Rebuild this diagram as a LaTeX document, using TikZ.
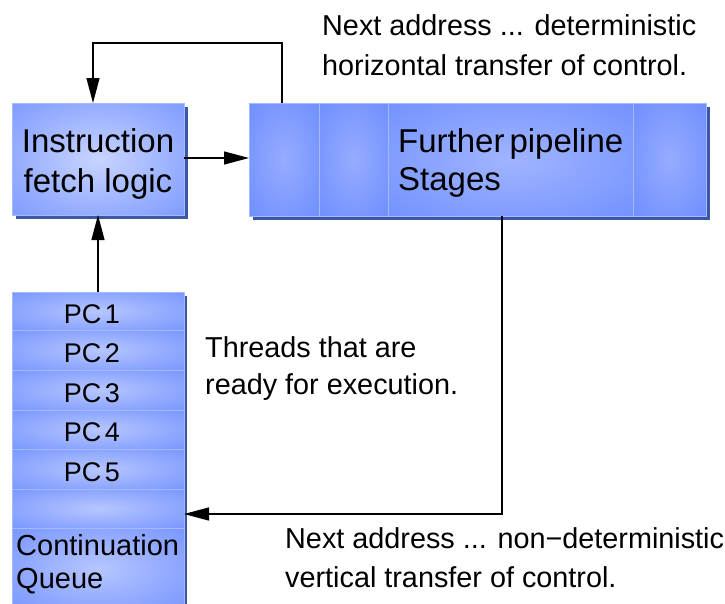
\documentclass[tikz,border=0pt]{standalone}
\usepackage{fontspec}
\setmainfont{Liberation Sans}
\usetikzlibrary{arrows.meta}
\definecolor{boxouter}{RGB}{102,136,255}
\definecolor{fetchin}{RGB}{200,212,255}
\definecolor{pipein}{RGB}{150,172,255}
\definecolor{bigin}{RGB}{160,180,255}
\definecolor{queuein}{RGB}{182,198,255}
\definecolor{boxedge}{RGB}{165,185,255}
\definecolor{boxshadow}{RGB}{58,88,165}
\pgfdeclareradialshading{softfetch}{\pgfpoint{0bp}{0bp}}{color(0bp)=(fetchin); color(47bp)=(boxouter); color(50bp)=(boxouter)}
\pgfdeclareradialshading{softpipe}{\pgfpoint{0bp}{0bp}}{color(0bp)=(pipein); color(44bp)=(boxouter); color(50bp)=(boxouter)}
\pgfdeclareradialshading{softbig}{\pgfpoint{0bp}{0bp}}{color(0bp)=(bigin); color(46bp)=(boxouter); color(50bp)=(boxouter)}
\pgfdeclareradialshading{softqueue}{\pgfpoint{0bp}{0bp}}{color(0bp)=(queuein); color(46bp)=(boxouter); color(50bp)=(boxouter)}
\newcommand\myTightA{\spaceskip=5pt\relax}
\newcommand\myTightB{\spaceskip=3.5pt\relax}
\begin{document}
\begin{tikzpicture}[x=1pt,y=-1pt,
  blk/.style={draw=boxedge, line width=1pt, shade, shading=#1,
    rectangle, inner sep=0pt, outer sep=0pt},
  shadowfill/.style={fill=boxshadow},
  boxtxt/.style={font=\fontsize{33}{40}\selectfont, inner sep=0pt, anchor=base},
  boxtxtw/.style={font=\fontsize{33}{40}\selectfont, inner sep=0pt, anchor=base west},
  pctxt/.style={font=\fontsize{27}{33}\selectfont, inner sep=0pt, anchor=base},
  cqtxt/.style={font=\fontsize{29}{33}\selectfont, inner sep=0pt, anchor=base west},
  note/.style={font=\fontsize{28.8}{40}\selectfont, inner sep=0pt, anchor=base west},
  arr/.style={line width=1.2pt, -{Triangle[length=25pt,width=13pt]}}
]
\useasboundingbox (0,0) rectangle (725,603);
\clip (0,0) rectangle (725,603);

% shadows
\fill[shadowfill] (16,107) rectangle (188,219);
\fill[shadowfill] (253,107) rectangle (710,220);
\fill[shadowfill] (16,296) rectangle (187,610);

% instruction fetch box
\node[blk=softfetch, minimum width=172pt, minimum height=112pt] (fetch) at (98,159) {};
\node[boxtxt] (fetchA) at (98,152) {Instruction};
\node[boxtxt] (fetchB) at (98,192) {fetch logic};

% pipeline segments
\node[blk=softpipe, minimum width=70pt, minimum height=113pt] (pipe1) at (284,159.5) {};
\node[blk=softpipe, minimum width=69pt, minimum height=113pt] (pipe2) at (353.5,159.5) {};
\node[blk=softbig, minimum width=245pt, minimum height=113pt] (pipe3) at (510.5,159.5) {};
\node[blk=softpipe, minimum width=73pt, minimum height=113pt] (pipe4) at (669.5,159.5) {};
\node[boxtxtw] (pipeA) at (398,152) {\myTightA Further pipeline};
\node[boxtxtw] (pipeB) at (398,190) {Stages};

% continuation queue
\node[blk=softqueue, minimum width=172pt, minimum height=38pt] (q1) at (98,311) {};
\node[blk=softqueue, minimum width=172pt, minimum height=40pt] (q2) at (98,350) {};
\node[blk=softqueue, minimum width=172pt, minimum height=40pt] (q3) at (98,390) {};
\node[blk=softqueue, minimum width=172pt, minimum height=39pt] (q4) at (98,429.5) {};
\node[blk=softqueue, minimum width=172pt, minimum height=40pt] (q5) at (98,469) {};
\node[blk=softqueue, minimum width=172pt, minimum height=39pt] (q6) at (98,508.5) {};
\node[blk=softqueue, minimum width=172pt, minimum height=82pt] (q7) at (98,569) {};
\node[pctxt] (pc1) at (92,323) {\myTightB PC 1};
\node[pctxt] (pc2) at (92,362) {\myTightB PC 2};
\node[pctxt] (pc3) at (92,402) {\myTightB PC 3};
\node[pctxt] (pc4) at (92,441) {\myTightB PC 4};
\node[pctxt] (pc5) at (92,481) {\myTightB PC 5};
\node[cqtxt] (cqA) at (16,555) {Continuation};
\node[cqtxt] (cqB) at (16,588) {Queue};

% annotations
\node[note] (topA) at (322,35) {Next address ... deterministic};
\node[note] (topB) at (322,75) {horizontal transfer of control.};
\node[note] (thrA) at (205,357) {Threads that are};
\node[note] (thrB) at (205,394) {ready for execution.};
\node[note] (botA) at (285,548) {Next address ... non\textminus deterministic};
\node[note] (botB) at (285,587) {vertical transfer of control.};

% connectors
\coordinate (tr) at (282,43);
\coordinate (tl) at (93,43);
\draw[arr] (tr |- pipe1.north) -- (tr) -- (tl) -- (tl |- fetch.north);
\draw[arr] (fetch.east |- 0,158) -- (pipe1.west |- 0,158);
\draw[arr] (q1.north) -- (fetch.south);
\coordinate (br) at (502,514);
\draw[arr] (br |- pipe3.south) -- (br) -- (q6.east |- br);
\end{tikzpicture}
\end{document}
